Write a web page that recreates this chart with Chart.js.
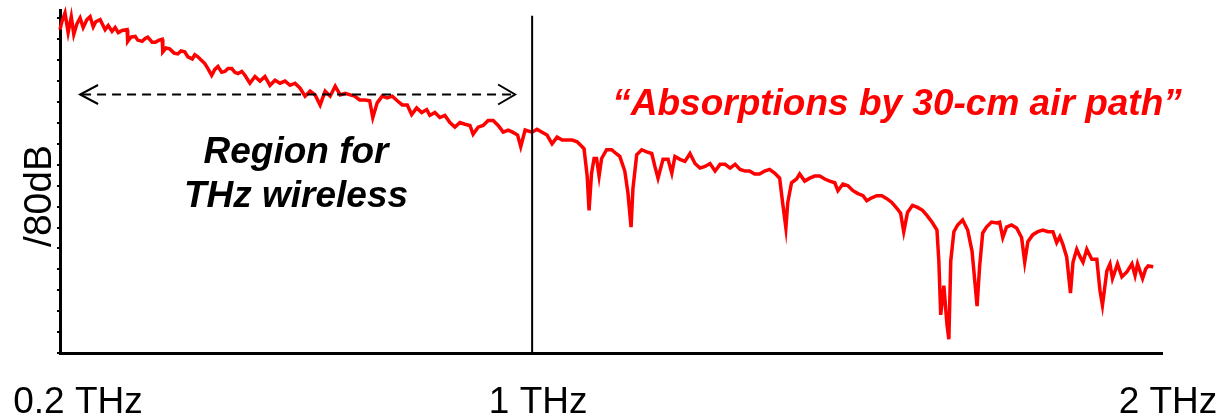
<!DOCTYPE html>
<html>
<head>
<meta charset="utf-8">
<script src="https://cdn.jsdelivr.net/npm/chart.js@4/dist/chart.umd.min.js"></script>
<style>
  html, body { margin: 0; padding: 0; background: #fff; }
  #wrap { width: 1230px; height: 416px; position: relative; }
</style>
</head>
<body>
<div id="wrap"><canvas id="spectrum"></canvas></div>
<script>
// frequency (THz) and transmitted level (dB, 80 dB full scale)
const freqTHz = [
  0.250, 0.253, 0.258, 0.263, 0.268, 0.272, 0.277, 0.282, 0.287, 0.293,
  0.298, 0.303, 0.307, 0.314, 0.322, 0.327, 0.333, 0.338, 0.343, 0.349,
  0.357, 0.358, 0.363, 0.370, 0.374, 0.381, 0.386, 0.390, 0.397, 0.402,
  0.408, 0.413, 0.414, 0.419, 0.425, 0.432, 0.438, 0.443, 0.449, 0.454,
  0.461, 0.465, 0.470, 0.476, 0.481, 0.486, 0.492, 0.497, 0.502, 0.508,
  0.513, 0.518, 0.524, 0.529, 0.534, 0.540, 0.545, 0.553, 0.561, 0.569,
  0.577, 0.585, 0.593, 0.601, 0.609, 0.617, 0.625, 0.633, 0.641, 0.649,
  0.657, 0.665, 0.673, 0.681, 0.689, 0.697, 0.705, 0.713, 0.720, 0.728,
  0.736, 0.744, 0.749, 0.756, 0.764, 0.772, 0.780, 0.788, 0.796, 0.804,
  0.811, 0.819, 0.827, 0.835, 0.840, 0.848, 0.856, 0.864, 0.872, 0.880,
  0.888, 0.896, 0.904, 0.909, 0.917, 0.925, 0.933, 0.941, 0.949, 0.957,
  0.965, 0.972, 0.980, 0.985, 0.992, 1.003, 1.011, 1.019, 1.027, 1.035,
  1.043, 1.051, 1.059, 1.067, 1.075, 1.083, 1.086, 1.091, 1.094, 1.098,
  1.102, 1.106, 1.110, 1.114, 1.122, 1.130, 1.137, 1.143, 1.151, 1.156,
  1.161, 1.164, 1.170, 1.178, 1.186, 1.194, 1.199, 1.204, 1.212, 1.220,
  1.226, 1.231, 1.239, 1.247, 1.255, 1.263, 1.271, 1.279, 1.287, 1.295,
  1.303, 1.311, 1.319, 1.327, 1.335, 1.343, 1.350, 1.358, 1.366, 1.374,
  1.382, 1.390, 1.398, 1.403, 1.408, 1.411, 1.417, 1.425, 1.430, 1.438,
  1.446, 1.454, 1.462, 1.470, 1.478, 1.486, 1.491, 1.499, 1.507, 1.515,
  1.523, 1.531, 1.537, 1.545, 1.553, 1.561, 1.569, 1.577, 1.585, 1.591,
  1.596, 1.602, 1.610, 1.618, 1.626, 1.633, 1.641, 1.649, 1.652, 1.655,
  1.660, 1.665, 1.668, 1.671, 1.676, 1.682, 1.690, 1.698, 1.705, 1.713,
  1.717, 1.722, 1.728, 1.736, 1.744, 1.749, 1.754, 1.760, 1.768, 1.776,
  1.784, 1.789, 1.794, 1.802, 1.810, 1.818, 1.826, 1.834, 1.840, 1.845,
  1.850, 1.856, 1.862, 1.866, 1.872, 1.877, 1.882, 1.888, 1.896, 1.904,
  1.909, 1.913, 1.920, 1.925, 1.929, 1.937, 1.944, 1.952, 1.960, 1.965,
  1.969, 1.977, 1.982, 1.986, 1.994
];
const levelDB = [
  77.3, 79.2, 81.3, 76.6, 80.4, 76.2, 78.7, 80.1, 77.8, 79.7,
  80.4, 78.0, 79.2, 79.7, 77.3, 78.3, 76.9, 77.8, 76.6, 77.1,
  77.3, 74.5, 75.5, 75.7, 74.8, 74.5, 75.2, 75.5, 74.3, 74.3,
  74.8, 75.0, 72.0, 72.9, 72.7, 71.7, 71.5, 72.2, 72.0, 70.8,
  70.3, 71.3, 70.8, 69.9, 69.2, 68.0, 66.4, 67.8, 68.5, 67.1,
  67.3, 68.0, 68.0, 67.1, 66.8, 67.3, 66.4, 64.5, 66.1, 65.0,
  66.1, 64.0, 65.2, 64.5, 65.0, 64.0, 64.5, 63.3, 61.4, 62.6,
  61.7, 59.3, 62.6, 61.4, 63.8, 61.7, 62.1, 61.7, 61.4, 60.5,
  60.5, 60.3, 56.3, 59.8, 61.4, 61.0, 61.4, 60.3, 59.3, 59.3,
  57.0, 58.6, 57.5, 58.2, 56.8, 57.5, 56.3, 56.8, 55.1, 54.0,
  55.1, 54.7, 54.4, 52.3, 54.0, 54.4, 55.6, 55.6, 54.4, 52.8,
  53.3, 52.8, 52.1, 49.3, 53.3, 52.8, 53.5, 52.8, 52.1, 50.0,
  51.6, 50.9, 50.9, 50.9, 50.5, 49.3, 48.8, 42.3, 34.1, 43.0,
  46.5, 46.5, 42.3, 46.5, 48.6, 48.6, 47.7, 47.0, 43.5, 38.3,
  30.1, 39.3, 47.4, 48.6, 48.1, 47.7, 44.6, 41.8, 46.3, 46.3,
  43.0, 47.0, 46.3, 45.8, 47.7, 45.3, 44.2, 44.6, 45.3, 43.5,
  45.1, 45.1, 44.2, 45.1, 43.9, 43.5, 43.5, 42.8, 42.8, 43.5,
  43.9, 43.0, 41.8, 35.7, 29.9, 36.0, 40.7, 41.6, 42.8, 41.1,
  41.8, 42.3, 42.3, 41.6, 41.1, 40.7, 38.8, 40.4, 40.0, 38.8,
  38.1, 37.6, 36.4, 37.1, 37.6, 37.6, 36.9, 36.0, 34.6, 33.4,
  29.0, 33.6, 35.3, 34.8, 34.1, 32.9, 31.3, 29.4, 22.0, 9.1,
  16.1, 6.8, 3.3, 22.0, 29.0, 30.6, 31.8, 29.4, 24.3, 11.2,
  20.6, 28.7, 30.1, 31.3, 31.1, 31.3, 27.6, 30.1, 30.6, 29.9,
  27.6, 21.7, 26.6, 28.3, 29.0, 29.4, 29.0, 29.0, 26.4, 27.8,
  25.9, 22.9, 14.3, 21.7, 24.8, 23.1, 21.7, 24.8, 22.4, 22.4,
  15.0, 11.4, 19.6, 21.3, 17.8, 21.3, 18.2, 19.4, 21.3, 18.5,
  21.3, 17.8, 20.1, 20.8, 20.6
];

// axis ticks
const xTickValues = [0.25, 1, 2];
const xTickLabels = ['0.2 THz', '1 THz', '2 THz'];
const yTickStep = 5;

// wireless band marked by the dashed arrow (THz) and its height (dB)
const bandStart = 0.282;
const bandEnd = 0.976;
const bandLevel = 61.9;

const FONT = "'Liberation Sans', Arial, sans-serif";
const labelShift = [18, 8, 11];

const points = freqTHz.map((f, i) => ({ x: f, y: levelDB[i] }));

const overlay = {
  id: 'overlay',
  afterDraw(chart) {
    const { ctx, scales: { x, y } } = chart;
    ctx.save();

    // 1 THz marker
    const x1 = x.getPixelForValue(1) + 2;
    ctx.strokeStyle = '#000';
    ctx.lineWidth = 2;
    ctx.beginPath();
    ctx.moveTo(x1, y.getPixelForValue(80.6));
    ctx.lineTo(x1, y.getPixelForValue(0));
    ctx.stroke();

    // dashed double arrow
    const xa = x.getPixelForValue(bandStart);
    const xb = x.getPixelForValue(bandEnd);
    const ya = Math.round(y.getPixelForValue(bandLevel)) + 0.5;
    ctx.lineWidth = 2;
    ctx.setLineDash([9, 6]);
    ctx.beginPath();
    ctx.moveTo(xa + 2, ya);
    ctx.lineTo(xb - 2, ya);
    ctx.stroke();
    ctx.setLineDash([]);
    ctx.beginPath();
    ctx.moveTo(xa + 18, ya - 9.5);
    ctx.lineTo(xa, ya);
    ctx.lineTo(xa + 18, ya + 9.5);
    ctx.moveTo(xb - 17, ya - 10);
    ctx.lineTo(xb, ya);
    ctx.lineTo(xb - 17, ya + 10);
    ctx.stroke();

    // x tick labels
    ctx.fillStyle = '#000';
    ctx.font = '37px ' + FONT;
    ctx.textAlign = 'center';
    ctx.textBaseline = 'alphabetic';
    xTickValues.forEach((v, i) => {
      ctx.fillText(xTickLabels[i], x.getPixelForValue(v) + labelShift[i], 413);
    });

    // y axis name
    ctx.save();
    ctx.font = '39px ' + FONT;
    ctx.translate(51, 196);
    ctx.rotate(-Math.PI / 2);
    ctx.fillText('/80dB', 0, 0);
    ctx.restore();

    // annotations
    ctx.font = 'italic bold 37px ' + FONT;
    ctx.fillText('Region for', 296, 163);
    ctx.fillText('THz wireless', 296, 207);

    ctx.fillStyle = '#ff0000';
    ctx.fillText('\u201CAbsorptions by 30-cm air path\u201D', 897, 115);

    ctx.restore();
  }
};

new Chart(document.getElementById('spectrum'), {
  type: 'line',
  data: {
    datasets: [{
      data: points,
      borderColor: '#ff0000',
      borderWidth: 3.5,
      pointRadius: 0,
      tension: 0,
      fill: false,
      clip: false
    }]
  },
  options: {
    responsive: true,
    maintainAspectRatio: false,
    animation: false,
    events: [],
    layout: { padding: { left: 57, right: 68, top: 10, bottom: 55 } },
    plugins: { legend: { display: false }, tooltip: { enabled: false } },
    scales: {
      x: {
        type: 'linear',
        min: 0.25,
        max: 2.008,
        grid: { display: false },
        ticks: { display: false },
        border: { display: true, color: '#000', width: 3 }
      },
      y: {
        min: 0,
        max: 82,
        grid: { display: true, drawOnChartArea: false, drawTicks: true, tickLength: 3, color: '#000', lineWidth: 2 },
        ticks: { display: false, stepSize: yTickStep, includeBounds: false, maxTicksLimit: 20 },
        border: { display: true, color: '#000', width: 3 }
      }
    }
  },
  plugins: [overlay]
});
</script>
</body>
</html>
